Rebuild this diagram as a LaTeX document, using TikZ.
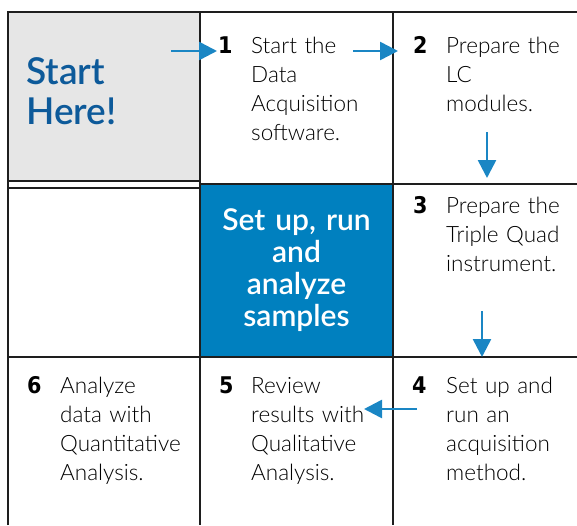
\documentclass[tikz,border=0pt]{standalone}
\usepackage{fontspec}
\setmainfont{Lato}[UprightFont={* Light},BoldFont={* Semibold}]
\newfontfamily\numfont{DejaVu Sans Condensed}
\usetikzlibrary{arrows.meta}
\definecolor{startgray}{HTML}{E6E6E6}
\definecolor{boxblue}{HTML}{0080BF}
\definecolor{arrowblue}{HTML}{1A86C4}
\definecolor{titleblue}{HTML}{0D5A9A}
\definecolor{gridline}{HTML}{1E1E1E}
\begin{document}
\begin{tikzpicture}[x=1pt,y=-1pt,
  gridl/.style={draw=gridline,line width=1.4pt},
  title/.style={text=titleblue,font=\fontsize{37}{40}\selectfont\bfseries,align=left,text width=160pt,inner sep=0pt},
  boxtext/.style={text=white,font=\fontsize{30}{32}\selectfont\bfseries,align=center,text width=190pt,inner sep=0pt},
  numtext/.style={font=\numfont\bfseries\fontsize{23}{29}\selectfont,inner sep=0pt},
  steptext/.style={text=black,font=\fontsize{22.5}{29}\selectfont,align=left,text width=130pt,inner sep=0pt},
  flow/.style={draw=arrowblue,line width=2.6pt,-{Triangle[length=18pt,width=18pt]}}]
\useasboundingbox (0,0) rectangle (577,525);
% fills
\fill[startgray] (8,12) rectangle (200,181);
\fill[boxblue] (200,184) rectangle (393,357);
% grid lines
\draw[gridl] (8,525) -- (8,12) -- (577,12);
\draw[gridl] (200,12) -- (200,525);
\draw[gridl] (393,12) -- (393,525);
\draw[gridl] (8,181) -- (200,181);
\draw[gridl] (8,188) -- (200,188);
\draw[gridl] (200,184) -- (577,184);
\draw[gridl] (8,357) -- (577,357);
% texts
\node[title,anchor=base west] (start) at (26,84) {Start\\Here!};
\node[boxtext] (center) at (296.5,270) {Set up, run\\and\\analyze\\samples};
\node[numtext,anchor=base west] (n1) at (218,53) {1};
\node[steptext,anchor=base west] (t1) at (251,53) {Start the\\Data\\Acquisition\\software.};
\node[numtext,anchor=base west] (n2) at (413,53) {2};
\node[steptext,anchor=base west] (t2) at (446,53) {Prepare the\\LC\\modules.};
\node[numtext,anchor=base west] (n3) at (413,213) {3};
\node[steptext,anchor=base west] (t3) at (446,213) {Prepare the\\Triple Quad\\instrument.};
\node[numtext,anchor=base west] (n4) at (412,393) {4};
\node[steptext,anchor=base west] (t4) at (446,393) {Set up and\\run an\\acquisition\\method.};
\node[numtext,anchor=base west] (n5) at (219,393) {5};
\node[steptext,anchor=base west] (t5) at (251,393) {Review\\results with\\Qualitative\\Analysis.};
\node[numtext,anchor=base west] (n6) at (27,393) {6};
\node[steptext,anchor=base west] (t6) at (60,393) {Analyze\\data with\\Quantitative\\Analysis.};
% arrows
\coordinate (a1s) at (171,51); \coordinate (a1e) at (217,51);
\coordinate (a2s) at (353,51); \coordinate (a2e) at (398,51);
\coordinate (a3s) at (487,132); \coordinate (a3e) at (487,178);
\coordinate (a4s) at (482,311); \coordinate (a4e) at (482,357);
\coordinate (a5s) at (417,409); \coordinate (a5e) at (364,409);
\draw[flow] (a1s) -- (a1e);
\draw[flow] (a2s) -- (a2e);
\draw[flow] (a3s) -- (a3e);
\draw[flow] (a4s) -- (a4e);
\draw[flow] (a5s) -- (a5e);
\end{tikzpicture}
\end{document}
